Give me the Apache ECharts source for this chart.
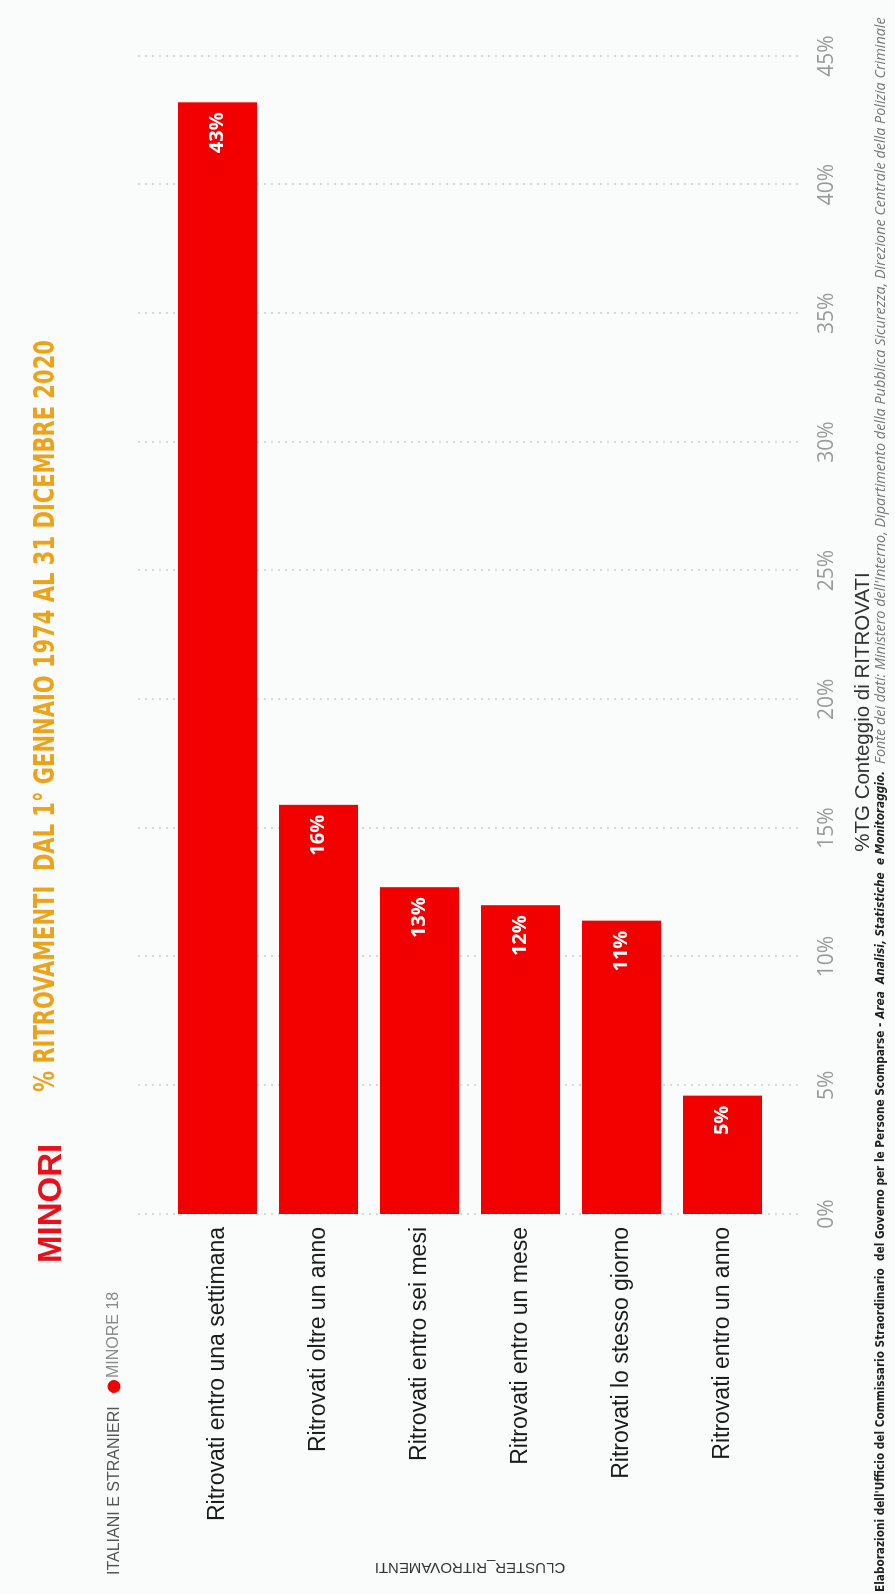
<!DOCTYPE html>
<html><head><meta charset="utf-8">
<script src="https://cdn.jsdelivr.net/npm/echarts@6/dist/echarts.min.js"></script>
<style>
html,body{margin:0;padding:0;width:895px;height:1594px;overflow:hidden;background:#fafcfc;}
#chart{position:absolute;left:0;top:0;width:1594px;height:895px;transform-origin:0 0;transform:translate(0,1594px) rotate(-90deg);}
</style></head><body><div id="chart"></div>
<script>
// Data
const categories = ['Ritrovati entro una settimana','Ritrovati oltre un anno','Ritrovati entro sei mesi','Ritrovati entro un mese','Ritrovati lo stesso giorno','Ritrovati entro un anno'];
const values = [43.2, 15.9, 12.7, 12.0, 11.4, 4.6];
const seriesName = 'MINORE 18';
const axisMin = 0, axisMax = 45, axisStep = 5;
const titleMain = 'MINORI';
const titleSub = '% RITROVAMENTI  DAL 1° GENNAIO 1974 AL 31 DICEMBRE 2020';
const legendPrefix = 'ITALIANI E STRANIERI';
const valueAxisName = '%TG Conteggio di RITROVATI';
const categoryAxisName = 'CLUSTER_RITROVAMENTI';
const footerLeft = "Elaborazioni dell'Ufficio del Commissario Straordinario  del Governo per le Persone Scomparse - ";
const footerLeftItalic = 'Area  Analisi, Statistiche  e Monitoraggio.';
const footerRight = "Fonte dei dati: Ministero dell'Interno, Dipartimento della Pubblica Sicurezza, Direzione Centrale della Polizia Criminale";

const chart = echarts.init(document.getElementById('chart'), null, {renderer:'canvas', width:1594, height:895});
const option = {
  backgroundColor: '#fafcfc',
  animation: false,
  title: [
    {text: titleMain, left: 326, top: 30, textStyle:{fontFamily:'Liberation Sans, Arial', fontWeight:'bold', fontSize:33, color:'#e8101a'}},
    {text: legendPrefix, left: 14, top: 102, textStyle:{fontFamily:'Liberation Sans, Arial', fontWeight:'normal', fontSize:16, color:'#555'}}
  ],
  legend: {
    data: [seriesName], left: 196, top: 101, icon: 'circle', itemWidth: 13, itemHeight: 13, itemGap: 4,
    textStyle: {fontFamily:'Liberation Sans, Arial', fontSize:16, color:'#8a8a8a', padding:[0,0,0,-3]}
  },
  grid: [
    {left: 380, right: 56, top: 138, bottom: 95},
    {left: 380, right: 56, top: 167, bottom: 122}
  ],
  xAxis: [
    {type:'value', gridIndex:0, min:axisMin, max:axisMax, interval:axisStep,
     axisLine:{show:false}, axisTick:{show:false},
     axisLabel:{formatter:'{value}%', fontFamily:'Open Sans, Liberation Sans', fontSize:21, color:'#9a9a9a', margin:17},
     splitLine:{show:true, lineStyle:{type:[2,5], color:'#cccccc', width:1.5}},
     name: valueAxisName, nameLocation:'middle', nameGap:53,
     nameTextStyle:{fontFamily:'Liberation Sans, Arial', fontSize:20.5, color:'#333', padding:[0,154,0,0]}},
    {type:'value', gridIndex:1, min:axisMin, max:axisMax, interval:axisStep, show:false}
  ],
  yAxis: [
    {type:'category', gridIndex:0, data:categories, show:false},
    {type:'category', gridIndex:1, data:categories, inverse:true,
     axisLine:{show:false}, axisTick:{show:false},
     axisLabel:{fontFamily:'Liberation Sans, Arial', fontSize:23, color:'#1b1b1b', margin:13},
     name: categoryAxisName, nameLocation:'middle', nameGap:346,
     nameTextStyle:{fontFamily:'Liberation Sans, Arial', fontSize:15, color:'#333'}}
  ],
  series: [{
    name: seriesName, type:'bar', xAxisIndex:1, yAxisIndex:1, data: values, barWidth:79,
    itemStyle:{color:'#f20000'},
    label:{show:true, position:'insideRight', distance:10, color:'#fff', fontFamily:'Open Sans, Liberation Sans', fontWeight:'bold', fontSize:20,
      formatter: p => Math.round(p.value) + '%'}
  }],
  graphic: [
    {type:'text', x: 502, y: 33, scaleX: 0.835, style:{
      text: titleSub, fontFamily:'DejaVu Sans Condensed, Liberation Sans', fontWeight:'bold', fontSize:28, fill:'#eda319'}},
    {type:'text', x: 2, y: 874, scaleX: 0.9, style:{
      text: footerLeft + '{i|' + footerLeftItalic + '}',
      rich:{i:{fontStyle:'italic', fontWeight:'bold', fontFamily:'DejaVu Sans Condensed, Liberation Sans', fontSize:13, fill:'#222'}},
      fontFamily:'DejaVu Sans Condensed, Liberation Sans', fontWeight:'bold', fontSize:13, fill:'#222'}},
    {type:'text', x: 830, y: 874, style:{
      text: footerRight, fontFamily:'Open Sans, Liberation Sans', fontStyle:'italic', fontSize:14.4, fill:'#777'}}
  ]
};
chart.setOption(option);
</script></body></html>
